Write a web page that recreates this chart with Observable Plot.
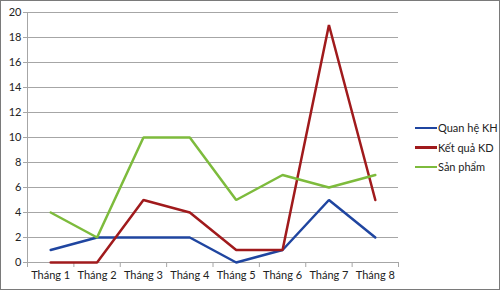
<!DOCTYPE html>
<html><head><meta charset="utf-8">
<script src="https://cdn.jsdelivr.net/npm/d3@7"></script>
<script src="https://cdn.jsdelivr.net/npm/@observablehq/plot@0.6"></script>
<style>
body{margin:0;background:#fff;}
#wrap{position:relative;width:500px;height:290px;font-family:Lato,"Open Sans",sans-serif;}
#wrap svg{display:block;}
#frame{position:absolute;left:0;top:0;width:500px;height:290px;box-sizing:border-box;border:1.5px solid #7a7a7a;pointer-events:none;}
#legend{position:absolute;left:415px;top:118px;font-size:11px;color:#222;}
#legend div{display:flex;align-items:center;height:19.5px;}
#legend span.sw{display:inline-block;width:22px;height:2.5px;margin-right:1px;}
</style></head>
<body><div id="wrap"><div id="legend"></div><div id="frame"></div></div>
<script>
const months = ["Tháng 1","Tháng 2","Tháng 3","Tháng 4","Tháng 5","Tháng 6","Tháng 7","Tháng 8"];
const quanHeKH = [1,2,2,2,0,1,5,2];
const ketQuaKD = [0,0,5,4,1,1,19,5];
const sanPham = [4,2,10,10,5,7,6,7];
const seriesNames = ["Quan hệ KH","Kết quả KD","Sản phẩm"];
const seriesColors = ["#1f45a0","#a01a1c","#7dbb3c"];
const yTicks = [0,2,4,6,8,10,12,14,16,18,20];

const allSeries = [quanHeKH, ketQuaKD, sanPham];
const rows = [];
allSeries.forEach((vals, s) => vals.forEach((v, i) => rows.push({s: seriesNames[s], i: i + 0.5, v})));
const bounds = d3.range(0, months.length + 1);
const centers = months.map((m, i) => i + 0.5);

const chart = Plot.plot({
  width: 500, height: 290,
  marginLeft: 27, marginRight: 102, marginTop: 12, marginBottom: 28,
  style: {fontFamily: "Lato, 'Open Sans', sans-serif", fontSize: "11px", color: "#222", background: "transparent"},
  x: {type: "linear", domain: [0, months.length], axis: null},
  y: {type: "linear", domain: [0, 20], axis: null},
  color: {domain: seriesNames, range: seriesColors},
  marks: [
    Plot.ruleY(yTicks.filter(t => t > 0), {stroke: "#a6a6a6", strokeWidth: 1, strokeOpacity: 1}),
    Plot.ruleX([0], {stroke: "#a6a6a6", strokeWidth: 1, strokeOpacity: 1}),
    Plot.ruleY([0], {stroke: "#a6a6a6", strokeWidth: 1, strokeOpacity: 1}),
    Plot.axisY(yTicks, {tickSize: 4, tickPadding: 2, stroke: "#a6a6a6", strokeOpacity: 1, fill: "#222", fontSize: 11, label: null}),
    Plot.axisX(centers, {tickSize: 0, tickPadding: 9, tickFormat: d => months[Math.round(d - 0.5)], fill: "#222", fontSize: 11, label: null}),
    Plot.axisX(bounds, {tickSize: 5, tickFormat: () => "", stroke: "#a6a6a6", strokeOpacity: 1, label: null}),
    Plot.lineY(rows, {x: "i", y: "v", z: "s", stroke: "s", strokeWidth: 2.5, strokeLinejoin: "miter"})
  ]
});
const wrap = document.getElementById("wrap");
wrap.insertBefore(chart, wrap.firstChild);
const lg = document.getElementById("legend");
seriesNames.forEach((n, k) => {
  const d = document.createElement("div");
  d.innerHTML = `<span class="sw" style="background:${seriesColors[k]}"></span>${n}`;
  lg.appendChild(d);
});
</script></body></html>
